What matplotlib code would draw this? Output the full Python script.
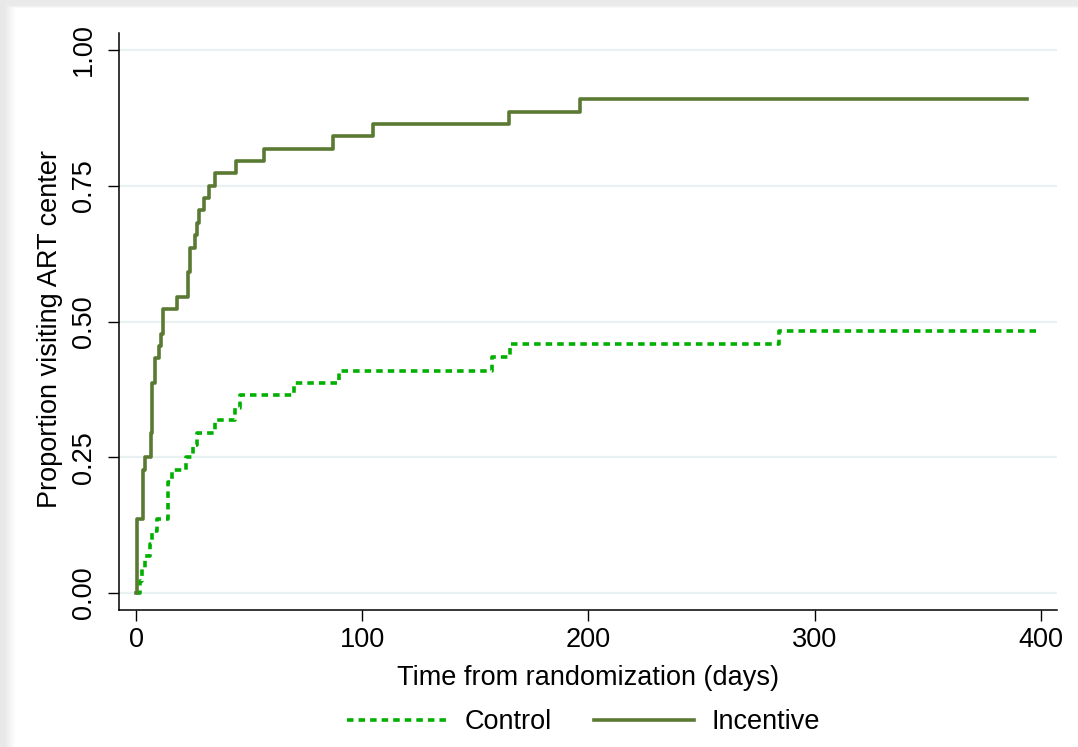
import numpy as np
import matplotlib
matplotlib.use("Agg")
import matplotlib.pyplot as plt
from matplotlib.lines import Line2D

# ---------------- data ----------------
incentive_days = [0, 0.5, 3, 4, 6.5, 7.2, 8.3, 10.3, 11, 11.8, 17.9, 23.1, 24, 26,
                  26.9, 27.9, 30, 32, 35, 44, 56.6, 87, 104.7, 164.7, 196.4, 394]
incentive_prop = [0, 0.136, 0.227, 0.250, 0.295, 0.386, 0.432, 0.455, 0.477, 0.523,
                  0.545, 0.591, 0.636, 0.659, 0.682, 0.705, 0.727, 0.750, 0.773,
                  0.795, 0.818, 0.841, 0.864, 0.886, 0.909, 0.909]

control_days = [0, 1.5, 2.7, 4, 6.2, 7, 9.3, 14, 15.8, 22, 25, 27, 35, 43.5, 46,
                70, 89.8, 157.4, 165.5, 284.2, 398]
control_prop = [0, 0.023, 0.045, 0.068, 0.091, 0.114, 0.136, 0.205, 0.227, 0.250,
                0.273, 0.295, 0.318, 0.341, 0.364, 0.386, 0.409, 0.434, 0.458,
                0.483, 0.483]

x_ticks = [0, 100, 200, 300, 400]
y_ticks = [0.0, 0.25, 0.5, 0.75, 1.0]
y_tick_labels = ["0.00", "0.25", "0.50", "0.75", "1.00"]
series_names = ["Control", "Incentive"]

# ---------------- styling ----------------
plt.rcParams['font.family'] = ['Liberation Sans', 'DejaVu Sans']
FS = 19.5
LW = 2.6
col_incentive = '#5a7a33'
col_control = '#00b000'
grid_col = '#e9f1f2'
DASH = (1.8, 1.4)

W, H = 1078, 747
fig = plt.figure(figsize=(W / 100, H / 100), dpi=100)
fig.patch.set_facecolor('white')

# screenshot-like soft shadow on top and left
bg = fig.add_axes([0, 0, 1, 1], zorder=-10)
xs = np.arange(W)
ys = np.arange(H)
left = np.clip((xs - 4) / 11.0, 0, 1)
top = np.clip((ys - 5) / 3.0, 0, 1)
shade_x = 0.91 + 0.09 * left
shade_y = 0.92 + 0.08 * top
shade = np.minimum(shade_y[:, None], shade_x[None, :])
img = np.repeat(shade[:, :, None], 3, axis=2)
bg.imshow(img, aspect='auto', extent=[0, 1, 0, 1], interpolation='bilinear')
bg.set_axis_off()

ax = fig.add_axes([119 / W, 1 - 610 / H, (1057 - 119) / W, (610 - 33) / H])
ax.set_facecolor('none')

for yv in y_ticks:
    ax.axhline(yv, color=grid_col, lw=1.6, zorder=0)

ax.step(control_days, control_prop, where='post', color=col_control, lw=LW,
        dashes=DASH, zorder=3, dash_capstyle='butt')
ax.step(incentive_days, incentive_prop, where='post', color=col_incentive, lw=LW,
        zorder=4)

ax.set_xlim(-7.6, 407.2)
ax.set_ylim(-0.031, 1.031)
ax.set_xticks(x_ticks)
ax.set_xticklabels([str(v) for v in x_ticks])
ax.set_yticks(y_ticks)
ax.set_yticklabels(y_tick_labels, rotation=90, va='center')

for s in ['top', 'right']:
    ax.spines[s].set_visible(False)
for s in ['left', 'bottom']:
    ax.spines[s].set_linewidth(1.1)
    ax.spines[s].set_color('black')

ax.tick_params(axis='both', direction='out', length=8, width=1.0, labelsize=FS,
               color='black', labelcolor='black')
ax.tick_params(axis='x', pad=4)
ax.tick_params(axis='y', pad=8)

ax.set_xlabel("Time from randomization (days)", fontsize=FS, labelpad=9)
ax.set_ylabel("Proportion visiting ART center", fontsize=FS)
ax.yaxis.set_label_coords(-0.060, 0.487)

handles = [
    Line2D([], [], color=col_control, lw=LW, dashes=DASH),
    Line2D([], [], color=col_incentive, lw=LW),
]
fig.legend(handles, series_names, loc='center', bbox_to_anchor=(0.541, 0.033),
           ncol=2, frameon=False, fontsize=FS, handlelength=3.7,
           handletextpad=0.65, columnspacing=1.55)

fig.savefig("out.png", dpi=100, facecolor=fig.get_facecolor())
